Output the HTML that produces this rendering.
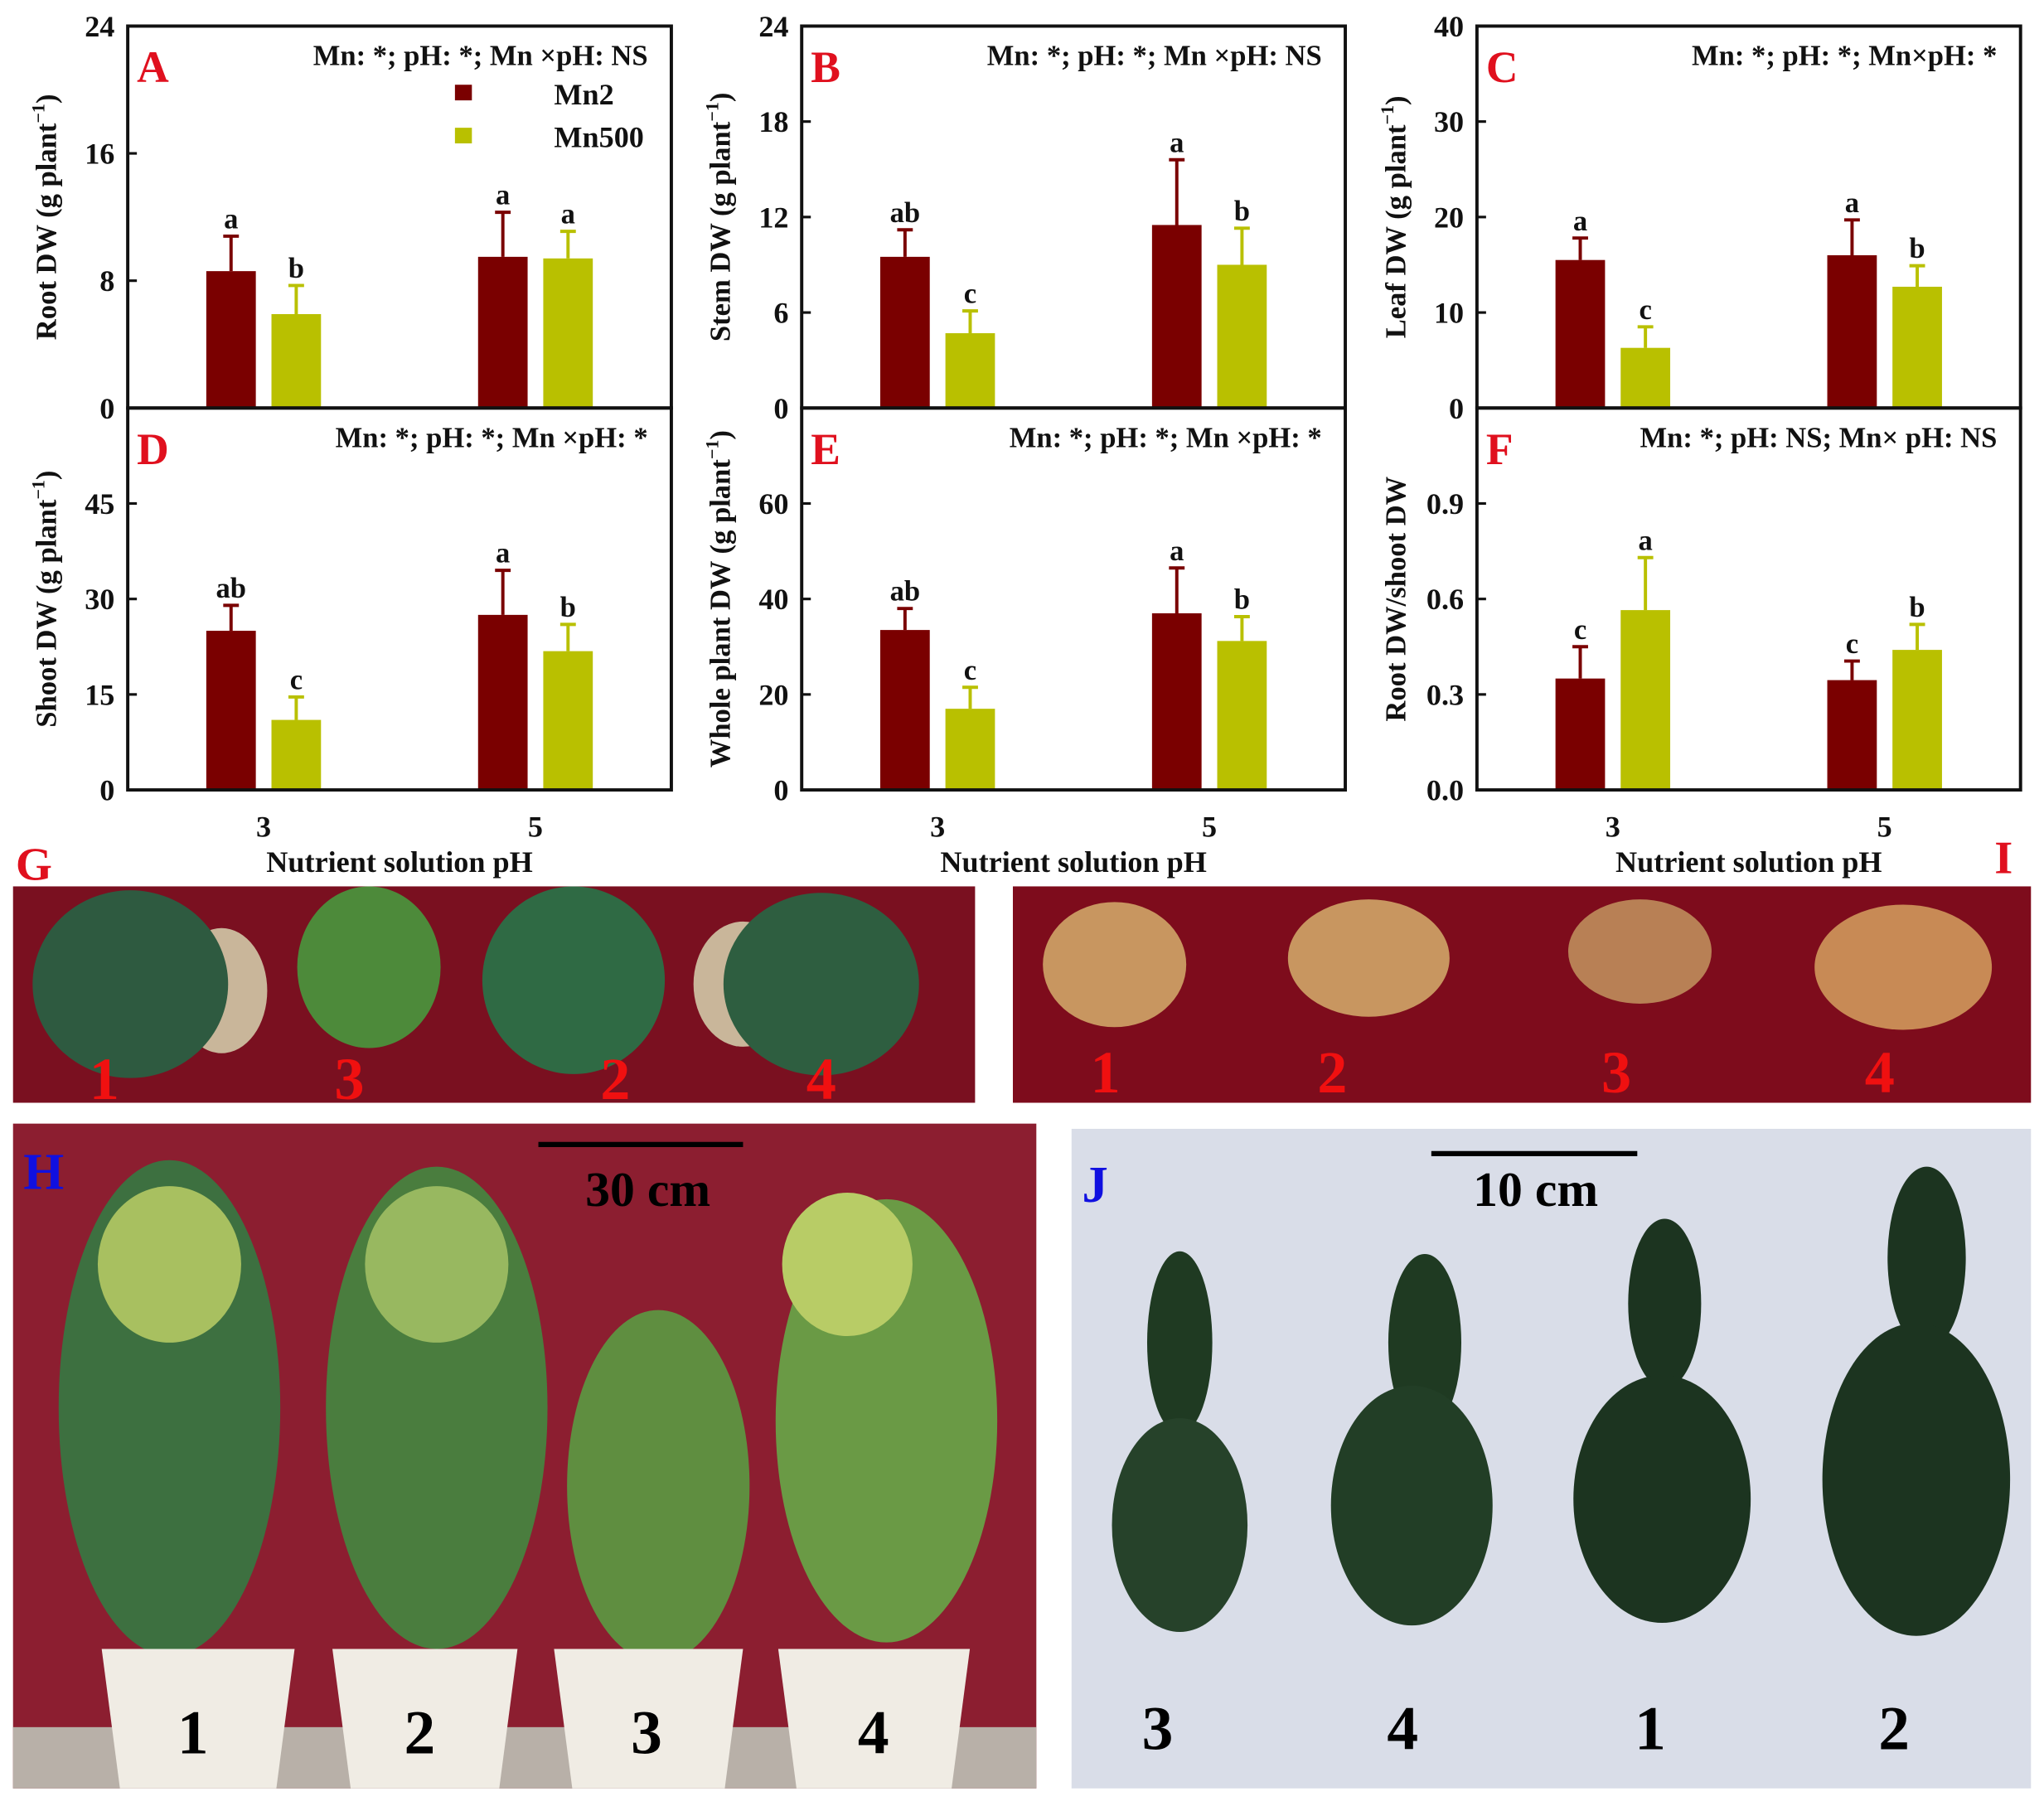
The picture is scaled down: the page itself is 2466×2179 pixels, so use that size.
<!DOCTYPE html>
<html><head><meta charset="utf-8">
<style>html,body{margin:0;padding:0;background:#fff}svg{display:block}svg text{font-family:"Liberation Serif","DejaVu Serif",serif;font-weight:bold}</style>
</head><body>
<svg id="fig" width="2466" height="2179" viewBox="0 0 1568 1385.5" xmlns="http://www.w3.org/2000/svg" font-family="'Liberation Serif', 'DejaVu Serif', serif" font-weight="bold">
<g id="charts"></g>
<g id="photos">
 <text x="12" y="675" font-size="36" fill="#e0101e">G</text>
 <g>
  <rect x="10" y="680" width="738" height="166" fill="#7a1020"/>
  <ellipse cx="170" cy="760" rx="35" ry="48" fill="#c9b69a"/>
  <ellipse cx="290" cy="750" rx="38" ry="45" fill="#c9b69a"/>
  <ellipse cx="410" cy="750" rx="38" ry="45" fill="#c9b69a"/>
  <ellipse cx="570" cy="755" rx="38" ry="48" fill="#c9b69a"/>
  <ellipse cx="100" cy="755" rx="75" ry="72" fill="#2e5a40"/>
  <ellipse cx="283" cy="742" rx="55" ry="62" fill="#4d8a3a"/>
  <ellipse cx="440" cy="752" rx="70" ry="72" fill="#2f6a44"/>
  <ellipse cx="630" cy="755" rx="75" ry="70" fill="#2e5e40"/>
  <text x="80" y="843" font-size="46" fill="#f01010" text-anchor="middle">1</text>
  <text x="268" y="843" font-size="46" fill="#f01010" text-anchor="middle">3</text>
  <text x="472" y="843" font-size="46" fill="#f01010" text-anchor="middle">2</text>
  <text x="630" y="843" font-size="46" fill="#f01010" text-anchor="middle">4</text>
 </g>
 <text x="1530" y="670" font-size="36" fill="#e0101e">I</text>
 <g>
  <rect x="777" y="680" width="781" height="166" fill="#7e0c1c"/>
  <ellipse cx="855" cy="740" rx="55" ry="48" fill="#c89660"/>
  <ellipse cx="1050" cy="735" rx="62" ry="45" fill="#c89660"/>
  <ellipse cx="1258" cy="730" rx="55" ry="40" fill="#b88055"/>
  <ellipse cx="1460" cy="742" rx="68" ry="48" fill="#c88a55"/>
  <text x="848" y="838" font-size="46" fill="#f01010" text-anchor="middle">1</text>
  <text x="1022" y="838" font-size="46" fill="#f01010" text-anchor="middle">2</text>
  <text x="1240" y="838" font-size="46" fill="#f01010" text-anchor="middle">3</text>
  <text x="1442" y="838" font-size="46" fill="#f01010" text-anchor="middle">4</text>
 </g>
 <g>
  <rect x="10" y="862" width="785" height="510" fill="#8c1e30"/>
  <rect x="10" y="1325" width="785" height="47" fill="#b8b0a8"/>
  <ellipse cx="130" cy="1080" rx="85" ry="190" fill="#3d7040"/>
  <ellipse cx="335" cy="1080" rx="85" ry="185" fill="#4a7d3e"/>
  <ellipse cx="505" cy="1140" rx="70" ry="135" fill="#5f8e40"/>
  <ellipse cx="680" cy="1090" rx="85" ry="170" fill="#6a9a45"/>
  <ellipse cx="130" cy="970" rx="55" ry="60" fill="#a8c060"/>
  <ellipse cx="335" cy="970" rx="55" ry="60" fill="#98b860"/>
  <ellipse cx="650" cy="970" rx="50" ry="55" fill="#b8cc66"/>
  <path d="M78 1265 h148 l-14 107 h-120z" fill="#f0ece4"/>
  <path d="M255 1265 h142 l-14 107 h-114z" fill="#f0ece4"/>
  <path d="M425 1265 h145 l-14 107 h-117z" fill="#f0ece4"/>
  <path d="M597 1265 h147 l-14 107 h-119z" fill="#f0ece4"/>
  <line x1="413" y1="878" x2="570" y2="878" stroke="#000" stroke-width="4"/>
  <text x="497" y="925" font-size="38" text-anchor="middle" fill="#000">30 cm</text>
  <text x="18" y="912" font-size="40" fill="#1010e0">H</text>
  <text x="148" y="1345" font-size="48" text-anchor="middle" fill="#000">1</text>
  <text x="322" y="1345" font-size="48" text-anchor="middle" fill="#000">2</text>
  <text x="496" y="1345" font-size="48" text-anchor="middle" fill="#000">3</text>
  <text x="670" y="1345" font-size="48" text-anchor="middle" fill="#000">4</text>
 </g>
 <g>
  <rect x="822" y="866" width="736" height="506" fill="#d9dde8"/>
  <ellipse cx="905" cy="1030" rx="25" ry="70" fill="#1f3a22"/>
  <ellipse cx="905" cy="1170" rx="52" ry="82" fill="#26422a"/>
  <ellipse cx="1093" cy="1030" rx="28" ry="68" fill="#1f3a22"/>
  <ellipse cx="1083" cy="1155" rx="62" ry="92" fill="#223e26"/>
  <ellipse cx="1277" cy="1000" rx="28" ry="65" fill="#1c3420"/>
  <ellipse cx="1275" cy="1150" rx="68" ry="95" fill="#1c3420"/>
  <ellipse cx="1478" cy="965" rx="30" ry="70" fill="#1c3420"/>
  <ellipse cx="1470" cy="1135" rx="72" ry="120" fill="#1c3420"/>
  <line x1="1098" y1="885" x2="1256" y2="885" stroke="#000" stroke-width="4"/>
  <text x="1178" y="925" font-size="38" text-anchor="middle" fill="#000">10 cm</text>
  <text x="830" y="922" font-size="40" fill="#1010e0">J</text>
  <text x="888" y="1342" font-size="48" text-anchor="middle" fill="#000">3</text>
  <text x="1076" y="1342" font-size="48" text-anchor="middle" fill="#000">4</text>
  <text x="1266" y="1342" font-size="48" text-anchor="middle" fill="#000">1</text>
  <text x="1453" y="1342" font-size="48" text-anchor="middle" fill="#000">2</text>
 </g>
</g>
</svg>
<script>
const categories = ["3", "5"];
const seriesNames = ["Mn2", "Mn500"];
const aMn2 = [8.6, 9.5], aMn2Err = [2.2, 2.8], aMn500 = [5.9, 9.4], aMn500Err = [1.8, 1.7];
const aLetters = ["a","b","a","a"], aTicks = [0, 8, 16, 24];
const bMn2 = [9.5, 11.5], bMn2Err = [1.7, 4.1], bMn500 = [4.7, 9.0], bMn500Err = [1.4, 2.3];
const bLetters = ["ab","c","a","b"], bTicks = [0, 6, 12, 18, 24];
const cMn2 = [15.5, 16.0], cMn2Err = [2.3, 3.7], cMn500 = [6.3, 12.7], cMn500Err = [2.2, 2.2];
const cLetters = ["a","c","a","b"], cTicks = [0, 10, 20, 30, 40];
const dMn2 = [25.0, 27.5], dMn2Err = [4.0, 7.0], dMn500 = [11.0, 21.8], dMn500Err = [3.6, 4.2];
const dLetters = ["ab","c","a","b"], dTicks = [0, 15, 30, 45];
const eMn2 = [33.5, 37.0], eMn2Err = [4.5, 9.5], eMn500 = [17.0, 31.2], eMn500Err = [4.5, 5.1];
const eLetters = ["ab","c","a","b"], eTicks = [0, 20, 40, 60];
const fMn2 = [0.35, 0.345], fMn2Err = [0.10, 0.06], fMn500 = [0.565, 0.44], fMn500Err = [0.165, 0.08];
const fLetters = ["c","a","c","b"], fTicks = ["0.0", "0.3", "0.6", "0.9"];

const NS = "http://www.w3.org/2000/svg";
const root = document.getElementById("charts");
function el(tag, attrs, parent, txt){
  const e = document.createElementNS(NS, tag);
  for (const k in attrs) e.setAttribute(k, attrs[k]);
  if (txt !== undefined) e.textContent = txt;
  (parent || root).appendChild(e);
  return e;
}
const panels = [
 {id:"a", L:"A", x0:98, top:20, max:24, mn2:aMn2, e2:aMn2Err, mn5:aMn500, e5:aMn500Err, let:aLetters, ticks:aTicks, ytitle:"Root DW (g plant", note:"Mn: *; pH: *; Mn \u00d7pH: NS"},
 {id:"b", L:"B", x0:615, top:20, max:24, mn2:bMn2, e2:bMn2Err, mn5:bMn500, e5:bMn500Err, let:bLetters, ticks:bTicks, ytitle:"Stem DW (g plant", note:"Mn: *; pH: *; Mn \u00d7pH: NS"},
 {id:"c", L:"C", x0:1133, top:20, max:40, mn2:cMn2, e2:cMn2Err, mn5:cMn500, e5:cMn500Err, let:cLetters, ticks:cTicks, ytitle:"Leaf  DW (g plant", note:"Mn: *; pH: *; Mn\u00d7pH: *"},
 {id:"d", L:"D", x0:98, top:313, max:60, mn2:dMn2, e2:dMn2Err, mn5:dMn500, e5:dMn500Err, let:dLetters, ticks:dTicks, ytitle:"Shoot DW (g plant", note:"Mn: *; pH: *; Mn \u00d7pH: *"},
 {id:"e", L:"E", x0:615, top:313, max:80, mn2:eMn2, e2:eMn2Err, mn5:eMn500, e5:eMn500Err, let:eLetters, ticks:eTicks, ytitle:"Whole plant DW (g plant", note:"Mn: *; pH: *; Mn \u00d7pH: *"},
 {id:"f", L:"F", x0:1133, top:313, max:1.2, mn2:fMn2, e2:fMn2Err, mn5:fMn500, e5:fMn500Err, let:fLetters, ticks:fTicks, ytitle:"Root DW/shoot DW", plain:true, note:"Mn: *; pH: NS; Mn\u00d7 pH: NS"}
];
const W = 417, H = 293;
panels.forEach(p => {
  const g = el("g", {});
  
  
  const y = v => p.top + H - (v / p.max) * H;
  const xc = i => p.x0 + W * (0.25 + 0.5 * i);
  const bw = 38;
  [[p.mn2, p.e2, "#7a0000", -25], [p.mn5, p.e5, "#b9c000", 25]].forEach((s, si) => {
    s[0].forEach((v, i) => {
      const cx = xc(i) + s[3];
      const r = el("rect", {x: cx - bw/2, y: y(v), width: bw, height: y(0) - y(v), fill: s[2]}, g);
      
      
      const et = v + s[1][i];
      const eb = el("path", {d: `M${cx} ${y(v)}V${y(et)}M${cx-6} ${y(et)}H${cx+6}`, stroke: s[2], "stroke-width": 2.5, fill: "none"}, g);
      
      
      const lt = el("text", {x: cx, y: y(et) - 6, "font-size": 22, "text-anchor": "middle", fill: "#111"}, g, p.let[i*2 + si]);
      
      
    });
  });
  const fr = el("rect", {x: p.x0, y: p.top, width: W, height: H, fill: "none", stroke: "#111", "stroke-width": 2.5}, g);
  
  
  p.ticks.forEach(t => {
    const v = parseFloat(t);
    el("line", {x1: p.x0, x2: p.x0 + 7, y1: y(v), y2: y(v), stroke: "#111", "stroke-width": 2}, g);
    const tl = el("text", {x: p.x0 - 10, y: y(v) + 8, "font-size": 23, "text-anchor": "end", fill: "#111"}, g, String(t));
    
    
  });
  const tx = p.x0 - 55, ty = p.top + H/2;
  const yt = el("text", {x: tx, y: ty, "font-size": 22, "text-anchor": "middle", fill: "#111", transform: `rotate(-90 ${tx} ${ty})`}, g);
  
  
  yt.appendChild(document.createTextNode(p.ytitle));
  if (!p.plain) {
    el("tspan", {dy: -9, "font-size": 14}, yt, "\u22121");
    el("tspan", {dy: 9}, yt, ")");
  }
  const pl = el("text", {x: p.x0 + 7, y: p.top + 43, "font-size": 34, fill: "#e0101e"}, g, p.L);
  
  
  const nt = el("text", {x: p.x0 + W - 18, y: p.top + 30, "font-size": 22, "text-anchor": "end", fill: "#111"}, g, p.note);
  
  
  if (p.top > 100) {
    categories.forEach((c, i) => {
      const xl = el("text", {x: xc(i), y: p.top + H + 36, "font-size": 23, "text-anchor": "middle", fill: "#111"}, g, c);
      
      
    });
    const xt = el("text", {x: p.x0 + W/2, y: p.top + H + 63, "font-size": 23, "text-anchor": "middle", fill: "#111"}, g, "Nutrient solution pH");
    
    
  }
});
const lg = el("g", {});


[["Mn2", "#7a0000", 72], ["Mn500", "#b9c000", 105]].forEach(l => {
  el("rect", {x: 349, y: l[2] - 7, width: 13, height: 12, fill: l[1]}, lg);
  const t = el("text", {x: 425, y: l[2] + 8, "font-size": 23, fill: "#111"}, lg, l[0]);
  
  
});
</script>
</body></html>
